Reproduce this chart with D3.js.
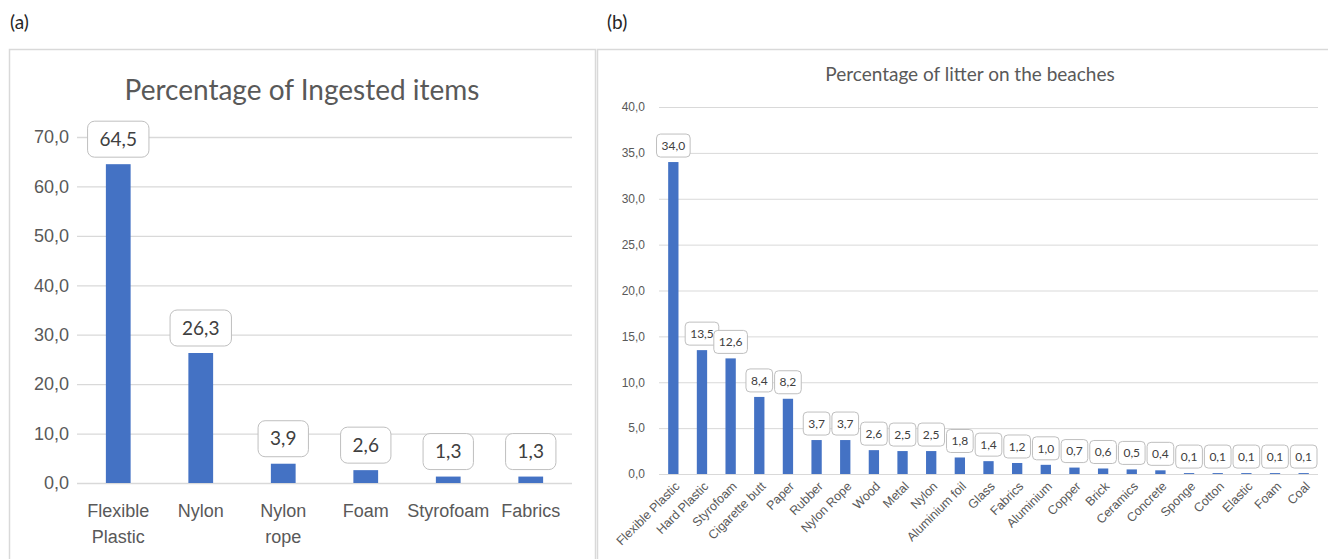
<!DOCTYPE html>
<html>
  <head>
    <meta charset="utf-8">
    <title>Percentage of ingested items and beach litter</title>
    <script src="https://d3js.org/d3.v7.min.js"></script>
    <style>
      body { margin: 0; background: #fff; }
      svg { display: block; font-family: Lato, "Open Sans", sans-serif; }
      .panel-tag { font-size: 19px; fill: #262626; }
      .title { fill: #595959; text-anchor: middle; }
      .axis text { fill: #595959; }
      .axis line { stroke: #d9d9d9; }
      .axis .domain { display: none; }
      .lbl rect { fill: #fff; stroke: #bfbfbf; }
      .lbl text { fill: #404040; text-anchor: middle; }
    </style>
  </head>
  <body>
    <div id="chart"></div>
    <script>
      // (a) ingested items
      const ingestCats = ["Flexible Plastic", "Nylon", "Nylon rope", "Foam", "Styrofoam", "Fabrics"];
      const ingestVals = [64.5, 26.3, 3.9, 2.6, 1.3, 1.3];
      const ingestTicks = [0, 10, 20, 30, 40, 50, 60, 70];

      // (b) litter on the beaches
      const litterCats = ["Flexible Plastic", "Hard Plastic", "Styrofoam", "Cigarette butt", "Paper",
        "Rubber", "Nylon Rope", "Wood", "Metal", "Nylon", "Aluminium foil", "Glass", "Fabrics",
        "Aluminium", "Copper", "Brick", "Ceramics", "Concrete", "Sponge", "Cotton", "Elastic",
        "Foam", "Coal"];
      const litterVals = [34.0, 13.5, 12.6, 8.4, 8.2, 3.7, 3.7, 2.6, 2.5, 2.5, 1.8, 1.4, 1.2,
        1.0, 0.7, 0.6, 0.5, 0.4, 0.1, 0.1, 0.1, 0.1, 0.1];
      const litterTicks = [0, 5, 10, 15, 20, 25, 30, 35, 40];

      const fmt = (d) => d.toFixed(1).replace(".", ",");
      const barColor = "#4472c4";

      const svg = d3.select("#chart")
        .append("svg")
        .attr("width", 1328)
        .attr("height", 559);

      // panel frames
      svg.append("rect").attr("x", 9.5).attr("y", 49.5).attr("width", 586).attr("height", 530)
        .attr("fill", "none").attr("stroke", "#d9d9d9").attr("stroke-width", 1.5);
      svg.append("rect").attr("x", 597.5).attr("y", 49.5).attr("width", 760).attr("height", 530)
        .attr("fill", "none").attr("stroke", "#d9d9d9").attr("stroke-width", 1.5);

      svg.append("text").attr("class", "panel-tag").attr("x", 10).attr("y", 29).text("(a)");
      svg.append("text").attr("class", "panel-tag").attr("x", 607).attr("y", 29).text("(b)");

      // adds value boxes above bars
      function valueLabels(g, cats, vals, x, y, opt) {
        const lab = g.selectAll(".lbl")
          .data(vals)
          .enter()
          .append("g")
          .attr("class", "lbl");
        lab.append("rect");
        lab.append("text")
          .style("font-size", opt.font + "px")
          .text((d) => fmt(d));
        lab.each(function (d, i) {
          const el = d3.select(this);
          const tw = el.select("text").node().getComputedTextLength();
          const w = tw + opt.padX * 2;
          const cx = x(cats[i]) + x.bandwidth() / 2;
          const bottom = y(d) - opt.gap;
          el.select("rect")
            .attr("x", cx - w / 2)
            .attr("y", bottom - opt.h)
            .attr("width", w)
            .attr("height", opt.h)
            .attr("rx", opt.rx);
          el.select("text")
            .attr("x", cx)
            .attr("y", bottom - opt.h / 2)
            .attr("dy", "0.35em");
        });
      }

      // ---------- (a) ----------
      {
        const left = 77, right = 572, top = 137, bottom = 483;
        const x = d3.scaleBand().domain(ingestCats).range([left, right])
          .paddingInner(0.7).paddingOuter(0.35);
        const y = d3.scaleLinear().domain([0, 70]).range([bottom, top]);
        const g = svg.append("g");

        g.append("text").attr("class", "title")
          .attr("x", 302).attr("y", 100)
          .style("font-size", "28px")
          .text("Percentage of Ingested items");

        g.append("g").attr("class", "axis")
          .attr("transform", `translate(${left},0)`)
          .call(d3.axisLeft(y).tickValues(ingestTicks).tickFormat(fmt)
            .tickSize(-(right - left)).tickPadding(8))
          .call((a) => a.selectAll("text").style("font-size", "18px"))
          .call((a) => a.selectAll("line").attr("stroke-width", 1.3));

        g.selectAll(".bar")
          .data(ingestVals)
          .enter()
          .append("rect")
          .attr("x", (d, i) => x(ingestCats[i]))
          .attr("y", (d) => y(d))
          .attr("width", x.bandwidth())
          .attr("height", (d) => y(0) - y(d))
          .attr("fill", barColor);

        const xa = g.append("g").attr("class", "axis")
          .attr("transform", `translate(0,${bottom})`)
          .call(d3.axisBottom(x).tickSize(0).tickPadding(21).tickFormat(""));
        xa.selectAll(".tick text")
          .style("font-size", "18px")
          .each(function (d) {
            const words = d === "Styrofoam" || d === "Nylon" || d === "Foam" || d === "Fabrics"
              ? [d] : d.split(" ");
            const t = d3.select(this);
            words.forEach((w, k) => {
              t.append("tspan").attr("x", 0).attr("dy", k === 0 ? "0.71em" : "1.45em").text(w);
            });
          });

        valueLabels(g, ingestCats, ingestVals, x, y,
          { font: 19, padX: 12, h: 36, gap: 7, rx: 7 });
      }

      // ---------- (b) ----------
      {
        const left = 659, right = 1318, top = 107, bottom = 474;
        const x = d3.scaleBand().domain(litterCats).range([left, right])
          .paddingInner(0.64).paddingOuter(0.32);
        const y = d3.scaleLinear().domain([0, 40]).range([bottom, top]);
        const g = svg.append("g");

        g.append("text").attr("class", "title")
          .attr("x", 970).attr("y", 81)
          .style("font-size", "19px")
          .text("Percentage of litter on the beaches");

        g.append("g").attr("class", "axis")
          .attr("transform", `translate(${left},0)`)
          .call(d3.axisLeft(y).tickValues(litterTicks).tickFormat(fmt)
            .tickSize(-(right - left)).tickPadding(14))
          .call((a) => a.selectAll("text").style("font-size", "12px"));

        g.selectAll(".bar")
          .data(litterVals)
          .enter()
          .append("rect")
          .attr("x", (d, i) => x(litterCats[i]))
          .attr("y", (d) => y(d))
          .attr("width", x.bandwidth())
          .attr("height", (d) => y(0) - y(d))
          .attr("fill", barColor);

        g.append("g").attr("class", "axis")
          .attr("transform", `translate(0,${bottom})`)
          .call(d3.axisBottom(x).tickSize(0).tickPadding(0))
          .selectAll(".tick text")
          .style("font-size", "12.5px")
          .attr("text-anchor", "end")
          .attr("dy", "0.35em")
          .attr("transform", "translate(4,10) rotate(-45)");

        valueLabels(g, litterCats, litterVals, x, y,
          { font: 12, padX: 5, h: 23, gap: 5, rx: 4 });
      }
    </script>
  </body>
</html>
